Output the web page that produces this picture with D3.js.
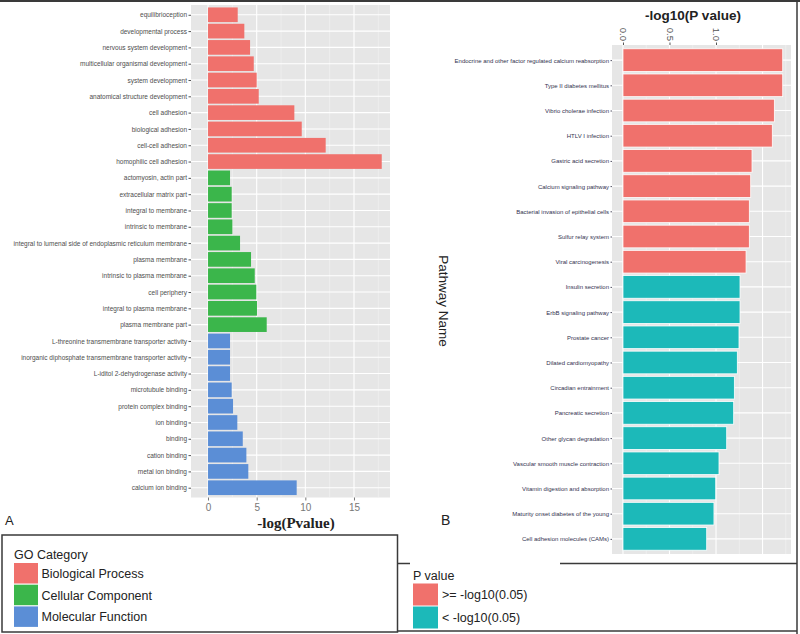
<!DOCTYPE html>
<html>
<head>
<meta charset="utf-8">
<script src="https://cdn.jsdelivr.net/npm/d3@7"></script>
<style>
  body { margin: 0; background: #fff; }
  svg { display: block; font-family: "Liberation Sans", Arial, sans-serif; }
</style>
</head>
<body>
<div id="chart"></div>
<script>
// panel A : GO terms
var goTerms = ["equilibrioception", "developmental process", "nervous system development",
  "multicellular organismal development", "system development", "anatomical structure development",
  "cell adhesion", "biological adhesion", "cell-cell adhesion", "homophilic cell adhesion",
  "actomyosin, actin part", "extracellular matrix part", "integral to membrane", "intrinsic to membrane",
  "integral to lumenal side of endoplasmic reticulum membrane", "plasma membrane",
  "intrinsic to plasma membrane", "cell periphery", "integral to plasma membrane", "plasma membrane part",
  "L-threonine transmembrane transporter activity", "inorganic diphosphate transmembrane transporter activity",
  "L-iditol 2-dehydrogenase activity", "microtubule binding", "protein complex binding", "ion binding",
  "binding", "cation binding", "metal ion binding", "calcium ion binding"];
var goValues = [3.05, 3.73, 4.32, 4.70, 5.00, 5.21, 8.87, 9.63, 12.09, 17.85,
  2.26, 2.43, 2.43, 2.50, 3.29, 4.42, 4.80, 4.96, 5.03, 6.03,
  2.26, 2.26, 2.26, 2.43, 2.57, 3.01, 3.57, 3.94, 4.14, 9.11];
var goCategory = ["BP", "BP", "BP", "BP", "BP", "BP", "BP", "BP", "BP", "BP",
  "CC", "CC", "CC", "CC", "CC", "CC", "CC", "CC", "CC", "CC",
  "MF", "MF", "MF", "MF", "MF", "MF", "MF", "MF", "MF", "MF"];
var goLegend = ["Biological Process", "Cellular Component", "Molecular Function"];
var goTicks = [0, 5, 10, 15];

// panel B : KEGG pathways
var pathways = ["Endocrine and other factor regulated calcium reabsorption", "Type II diabetes mellitus",
  "Vibrio cholerae infection", "HTLV I infection", "Gastric acid secretion", "Calcium signaling pathway",
  "Bacterial invasion of epithelial cells", "Sulfur relay system", "Viral carcinogenesis",
  "Insulin secretion", "ErbB signaling pathway", "Prostate cancer", "Dilated cardiomyopathy",
  "Circadian entrainment", "Pancreatic secretion", "Other glycan degradation",
  "Vascular smooth muscle contraction", "Vitamin digestion and absorption",
  "Maturity onset diabetes of the young", "Cell adhesion molecules (CAMs)"];
var pathValues = [1.717, 1.717, 1.627, 1.605, 1.387, 1.373, 1.358, 1.358, 1.323,
  1.258, 1.258, 1.247, 1.229, 1.197, 1.190, 1.115, 1.032, 0.997, 0.978, 0.900];
var pvLegend = [">= -log10(0.05)", "< -log10(0.05)"];
var pathTicks = [0, 0.5, 1.0];
var cutoff = -Math.log10(0.05);

var width = 800, height = 634;
var goColor = d3.scaleOrdinal().domain(["BP", "CC", "MF"]).range(["#f0716c", "#3bb64b", "#5b8ed6"]);
var pvColor = ["#f0716c", "#1cb9b9"];
var panelBg = "#e6e6e6";

var svg = d3.select("#chart").append("svg")
  .attr("width", width).attr("height", height);
svg.append("rect").attr("width", width).attr("height", height).attr("fill", "#fff");

// ---------- panel A ----------
var xA = d3.scaleLinear().domain([-1.75, 18.7]).range([191, 390]);
var yA = d3.scalePoint().domain(goTerms).range([5, 497.5]).padding(0.6);
var bandA = yA.step() * 0.9;

var gA = svg.append("g");
gA.append("rect").attr("x", xA.range()[0]).attr("y", 5)
  .attr("width", xA.range()[1] - xA.range()[0]).attr("height", 492.5).attr("fill", panelBg);

gA.selectAll(".minor").data([2.5, 7.5, 12.5, 17.5]).enter().append("line")
  .attr("x1", function (d) { return xA(d); }).attr("x2", function (d) { return xA(d); })
  .attr("y1", 5).attr("y2", 497.5).attr("stroke", "#f4f4f4").attr("stroke-width", 0.6);
gA.selectAll(".major").data(goTicks).enter().append("line")
  .attr("x1", function (d) { return xA(d); }).attr("x2", function (d) { return xA(d); })
  .attr("y1", 5).attr("y2", 497.5).attr("stroke", "#fff").attr("stroke-width", 1.1);
gA.selectAll(".hgrid").data(goTerms).enter().append("line")
  .attr("x1", 191).attr("x2", 390)
  .attr("y1", function (d) { return yA(d); }).attr("y2", function (d) { return yA(d); })
  .attr("stroke", "#fff").attr("stroke-width", 1.1);

gA.selectAll(".bar").data(goTerms).enter().append("rect")
  .attr("x", xA(0))
  .attr("y", function (d) { return yA(d) - bandA / 2; })
  .attr("width", function (d, i) { return xA(goValues[i]) - xA(0); })
  .attr("height", bandA)
  .attr("fill", function (d, i) { return goColor(goCategory[i]); });

var axA = gA.append("g").attr("transform", "translate(191,0)")
  .call(d3.axisLeft(yA).tickSize(2.5).tickPadding(1.5));
axA.select(".domain").remove();
axA.selectAll("line").attr("stroke", "#555");
axA.selectAll("text").attr("font-size", 6.5).attr("fill", "#4d4d4d")
  .attr("font-family", "'Liberation Sans', Arial, sans-serif");

var axAx = gA.append("g").attr("transform", "translate(0,497.5)")
  .call(d3.axisBottom(xA).tickValues(goTicks).tickSize(3).tickPadding(3));
axAx.select(".domain").remove();
axAx.selectAll("line").attr("stroke", "#777");
axAx.selectAll("text").attr("font-size", 10).attr("fill", "#777")
  .attr("font-family", "'Liberation Sans', Arial, sans-serif");

svg.append("text").attr("x", 296).attr("y", 528).attr("text-anchor", "middle")
  .attr("font-family", "'Liberation Serif', 'Times New Roman', serif")
  .attr("font-size", 15).attr("font-weight", "bold").attr("fill", "#222")
  .text("-log(Pvalue)");
svg.append("text").attr("x", 5).attr("y", 525).attr("font-size", 13).attr("fill", "#222").text("A");

// ---------- panel B ----------
var xB = d3.scaleLinear().domain([-0.118, 1.806]).range([612, 791]);
var yB = d3.scalePoint().domain(pathways).range([45, 554]).padding(0.6);
var bandB = yB.step() * 0.9;

var gB = svg.append("g");
gB.append("rect").attr("x", 612).attr("y", 45).attr("width", 179).attr("height", 509).attr("fill", panelBg);
gB.selectAll(".minor").data([0.25, 0.75, 1.25, 1.75]).enter().append("line")
  .attr("x1", function (d) { return xB(d); }).attr("x2", function (d) { return xB(d); })
  .attr("y1", 45).attr("y2", 554).attr("stroke", "#f4f4f4").attr("stroke-width", 0.6);
gB.selectAll(".major").data([0, 0.5, 1, 1.5]).enter().append("line")
  .attr("x1", function (d) { return xB(d); }).attr("x2", function (d) { return xB(d); })
  .attr("y1", 45).attr("y2", 554).attr("stroke", "#fff").attr("stroke-width", 1.1);
gB.selectAll(".hgrid").data(pathways).enter().append("line")
  .attr("x1", 612).attr("x2", 791)
  .attr("y1", function (d) { return yB(d); }).attr("y2", function (d) { return yB(d); })
  .attr("stroke", "#fff").attr("stroke-width", 1.1);

gB.selectAll(".bar").data(pathways).enter().append("rect")
  .attr("x", xB(0))
  .attr("y", function (d) { return yB(d) - bandB / 2; })
  .attr("width", function (d, i) { return xB(pathValues[i]) - xB(0); })
  .attr("height", bandB)
  .attr("fill", function (d, i) { return pathValues[i] >= cutoff ? pvColor[0] : pvColor[1]; })
  .attr("stroke", "#fff").attr("stroke-width", 0.8);

var axB = gB.append("g").attr("transform", "translate(612,0)")
  .call(d3.axisLeft(yB).tickSize(1.5).tickPadding(1.5));
axB.select(".domain").remove();
axB.selectAll("line").attr("stroke", "#556");
axB.selectAll("text").attr("font-size", 6).attr("fill", "#33334f")
  .attr("font-family", "'Liberation Sans', Arial, sans-serif");

var axBx = gB.append("g").attr("transform", "translate(0,45)")
  .call(d3.axisTop(xB).tickValues(pathTicks).tickFormat(d3.format(".1f")).tickSize(2.5).tickPadding(2));
axBx.select(".domain").remove();
axBx.selectAll("line").attr("stroke", "#555");
axBx.selectAll("text").attr("font-size", 9.5).attr("fill", "#555")
  .attr("font-family", "'Liberation Sans', Arial, sans-serif")
  .attr("text-anchor", "end").attr("dy", "0.35em")
  .attr("transform", "translate(0,-4) rotate(90)").attr("x", 0).attr("y", 0);

svg.append("text").attr("x", 693).attr("y", 20).attr("text-anchor", "middle")
  .attr("font-size", 13.5).attr("font-weight", "bold").attr("fill", "#222")
  .text("-log10(P value)");
svg.append("text").attr("transform", "translate(439,301) rotate(90)").attr("text-anchor", "middle")
  .attr("font-size", 13.5).attr("fill", "#222").text("Pathway Name");
svg.append("text").attr("x", 441).attr("y", 525).attr("font-size", 14).attr("fill", "#222").text("B");

// ---------- frames ----------
var frame = svg.append("g").attr("stroke", "#3a3a3a").attr("fill", "none");
frame.append("line").attr("x1", 0).attr("x2", 800).attr("y1", 1).attr("y2", 1).attr("stroke-width", 2.2);
frame.append("line").attr("x1", 797).attr("x2", 797).attr("y1", 0).attr("y2", 634).attr("stroke-width", 1.5);
frame.append("rect").attr("x", 2).attr("y", 535).attr("width", 395.5).attr("height", 97).attr("stroke-width", 1.5);
frame.append("line").attr("x1", 397.5).attr("x2", 410).attr("y1", 563.5).attr("y2", 563.5).attr("stroke-width", 1.5);
frame.append("line").attr("x1", 560).attr("x2", 797).attr("y1", 563.5).attr("y2", 563.5).attr("stroke-width", 1.5);
frame.append("line").attr("x1", 397.5).attr("x2", 797).attr("y1", 631).attr("y2", 631).attr("stroke-width", 1.5);

// ---------- legends ----------
var legA = svg.append("g").attr("transform", "translate(14,0)");
legA.append("text").attr("x", 0).attr("y", 559).attr("font-size", 12.5).attr("fill", "#222").text("GO Category");
legA.selectAll(".key").data(goLegend).enter().append("rect")
  .attr("x", 0).attr("y", function (d, i) { return 563 + i * 21.7; })
  .attr("width", 24).attr("height", 20.5)
  .attr("fill", function (d, i) { return goColor.range()[i]; });
legA.selectAll(".lab").data(goLegend).enter().append("text")
  .attr("x", 27.5).attr("y", function (d, i) { return 573.5 + i * 21.7; }).attr("dy", "0.35em")
  .attr("font-size", 12.5).attr("fill", "#222").text(function (d) { return d; });

var legB = svg.append("g").attr("transform", "translate(413,0)");
legB.append("text").attr("x", 0).attr("y", 580).attr("font-size", 12.5).attr("fill", "#222").text("P value");
legB.selectAll(".key").data(pvLegend).enter().append("rect")
  .attr("x", 0).attr("y", function (d, i) { return 583.5 + i * 23; })
  .attr("width", 25).attr("height", 22)
  .attr("fill", function (d, i) { return pvColor[i]; });
legB.selectAll(".lab").data(pvLegend).enter().append("text")
  .attr("x", 29).attr("y", function (d, i) { return 595 + i * 23; }).attr("dy", "0.35em")
  .attr("font-size", 12.5).attr("fill", "#222").text(function (d) { return d; });
</script>
</body>
</html>
